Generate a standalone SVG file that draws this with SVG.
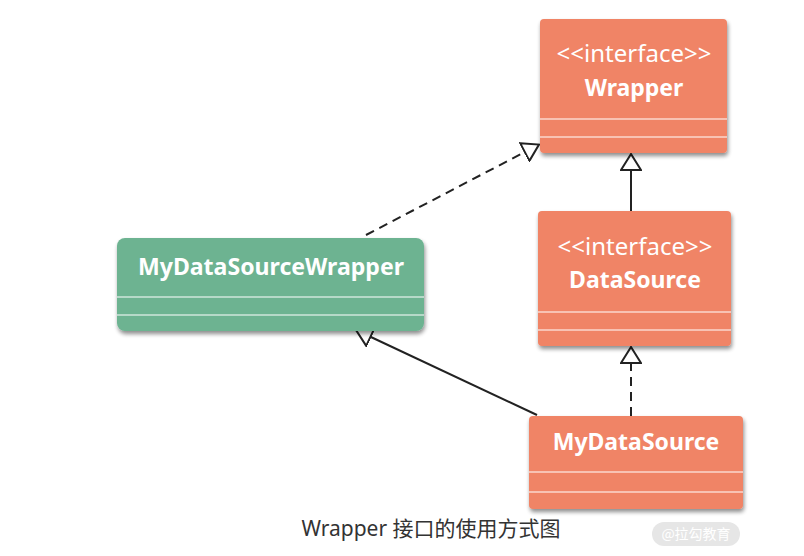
<svg xmlns="http://www.w3.org/2000/svg" width="804" height="556" viewBox="0 0 804 556">
<defs>
<filter id="sh" x="-10%" y="-10%" width="125%" height="130%">
<feGaussianBlur in="SourceAlpha" stdDeviation="2"/>
<feOffset dx="1" dy="3" result="b"/>
<feComponentTransfer><feFuncA type="linear" slope="0.45"/></feComponentTransfer>
<feMerge><feMergeNode/><feMergeNode in="SourceGraphic"/></feMerge>
</filter>
<marker id="tri" viewBox="0 0 18 22" refX="17" refY="11" markerWidth="18" markerHeight="22" markerUnits="userSpaceOnUse" orient="auto">
<path d="M1,1 L17,11 L1,21 Z" fill="#fff" stroke="#222" stroke-width="2" stroke-linejoin="miter"/>
</marker>
</defs>
<style>
.or{fill:#F08466}
.gr{fill:#6DB391}
.sep{stroke:#fff;stroke-width:1.2}
.t{font-family:"Source Sans Pro","Noto Sans","Open Sans",sans-serif;fill:#fff;text-anchor:middle;font-size:24px}
.b{font-weight:bold;font-size:23px}
.ln{stroke:#222;stroke-width:2;fill:none}
.dash{stroke-dasharray:9,6}
</style>
<rect width="804" height="556" fill="#fff"/>
<g id="connectors">
<path class="ln" d="M631,211 L631,154" marker-end="url(#tri)"/>
<path class="ln dash" d="M631,416 L631,347" marker-end="url(#tri)"/>
<path class="ln dash" d="M366,235 L539,144.6" marker-end="url(#tri)"/>
<path class="ln" d="M537,415 L356,330" marker-end="url(#tri)"/>
</g>
<g id="wrapper">
<rect class="or" x="540" y="19" width="187" height="134" rx="4" filter="url(#sh)"/>
<line class="sep" x1="540" y1="119" x2="727" y2="119"/>
<line class="sep" x1="540" y1="137" x2="727" y2="137"/>
<text class="t" x="634" y="62">&lt;&lt;interface&gt;&gt;</text>
<text class="t b" x="634" y="96">Wrapper</text>
</g>
<g id="datasource">
<rect class="or" x="538" y="211" width="193" height="135" rx="4" filter="url(#sh)"/>
<line class="sep" x1="538" y1="312" x2="731" y2="312"/>
<line class="sep" x1="538" y1="330" x2="731" y2="330"/>
<text class="t" x="635" y="255">&lt;&lt;interface&gt;&gt;</text>
<text class="t b" x="635" y="288">DataSource</text>
</g>
<g id="mydatasourcewrapper">
<rect class="gr" x="117" y="238" width="307" height="93" rx="8" filter="url(#sh)"/>
<line class="sep" x1="117" y1="297" x2="424" y2="297"/>
<line class="sep" x1="117" y1="315" x2="424" y2="315"/>
<text class="t b" x="271" y="275" textLength="266" lengthAdjust="spacingAndGlyphs">MyDataSourceWrapper</text>
</g>
<g id="mydatasource">
<rect class="or" x="529" y="416" width="214" height="93" rx="4" filter="url(#sh)"/>
<line class="sep" x1="529" y1="472" x2="743" y2="472"/>
<line class="sep" x1="529" y1="492" x2="743" y2="492"/>
<text class="t b" x="636" y="450">MyDataSource</text>
</g>
<text x="431" y="536" font-family="'Noto Sans','Noto Sans CJK SC',sans-serif" font-size="21" fill="#333" text-anchor="middle">Wrapper 接口的使用方式图</text>
<rect x="652" y="522" width="88" height="24" rx="12" fill="#e6e6e6"/>
<text x="696" y="539" font-family="'Noto Sans CJK SC',sans-serif" font-size="14" fill="#fff" text-anchor="middle">@拉勾教育</text>
</svg>
